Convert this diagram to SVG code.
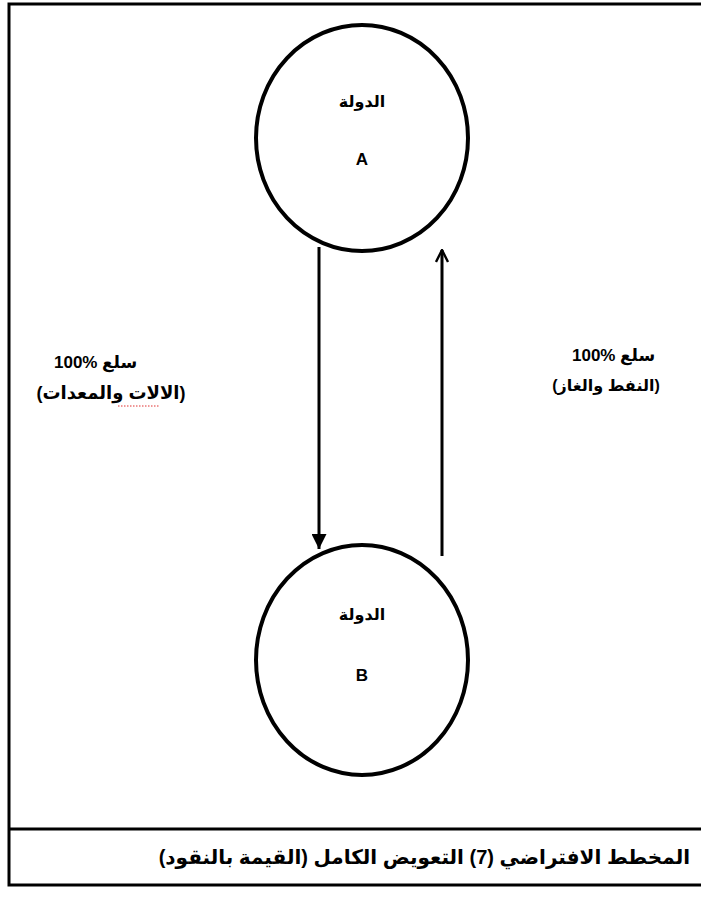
<svg xmlns="http://www.w3.org/2000/svg" width="701" height="914" viewBox="0 0 701 914">
<style>
.t{font-family:"Liberation Sans","DejaVu Sans",sans-serif;font-weight:bold;fill:#000}
.node{fill:#fff;stroke:#000;stroke-width:4}
.edge{stroke:#000;stroke-width:3;fill:none}
</style>
<defs>
<marker id="fill" viewBox="0 0 10 10" refX="10" refY="5" markerWidth="5" markerHeight="5" orient="auto" markerUnits="strokeWidth">
<path d="M0,0 L10,5 L0,10 z" fill="#000"/>
</marker>
<marker id="open" viewBox="0 0 10 10" refX="9" refY="5" markerWidth="5" markerHeight="5" orient="auto" markerUnits="strokeWidth">
<path d="M1,1 L9,5 L1,9" fill="none" stroke="#000" stroke-width="1.6"/>
</marker>
</defs>
<rect width="701" height="914" fill="#fff"/>
<g id="frame">
<rect x="9" y="4" width="700" height="881" fill="none" stroke="#000" stroke-width="3"/>
<line x1="9" y1="829" x2="701" y2="829" stroke="#000" stroke-width="3"/>
<text class="t" x="690" y="864" font-size="20" direction="rtl" text-anchor="start">المخطط الافتراضي (7) التعويض الكامل (القيمة بالنقود)</text>
</g>
<g id="nodeA">
<ellipse class="node" cx="362" cy="138" rx="106" ry="113"/>
<text class="t" x="362" y="107" font-size="16" text-anchor="middle">الدولة</text>
<text class="t" x="362" y="165" font-size="17" text-anchor="middle">A</text>
</g>
<g id="nodeB">
<ellipse class="node" cx="362" cy="660" rx="106" ry="115"/>
<text class="t" x="362" y="620" font-size="16" text-anchor="middle">الدولة</text>
<text class="t" x="362" y="681" font-size="17" text-anchor="middle">B</text>
</g>
<g id="connectors">
<line class="edge" x1="319" y1="247" x2="319" y2="549" marker-end="url(#fill)"/>
<line class="edge" x1="442" y1="556" x2="442" y2="250" marker-end="url(#open)"/>
</g>
<g id="labels">
<text class="t" x="54" y="368" font-size="17">100%</text>
<text class="t" x="102" y="368" font-size="17">سلع</text>
<text class="t" x="111" y="399" font-size="18" text-anchor="middle">(الالات والمعدات)</text>
<path d="M118,406 h42" stroke="#e03030" stroke-width="1" stroke-dasharray="1.5,1.5"/>
<text class="t" x="572" y="361" font-size="17">100%</text>
<text class="t" x="620" y="361" font-size="17">سلع</text>
<text class="t" x="606" y="391" font-size="16" text-anchor="middle">(النفط والغاز)</text>
</g>
</svg>
